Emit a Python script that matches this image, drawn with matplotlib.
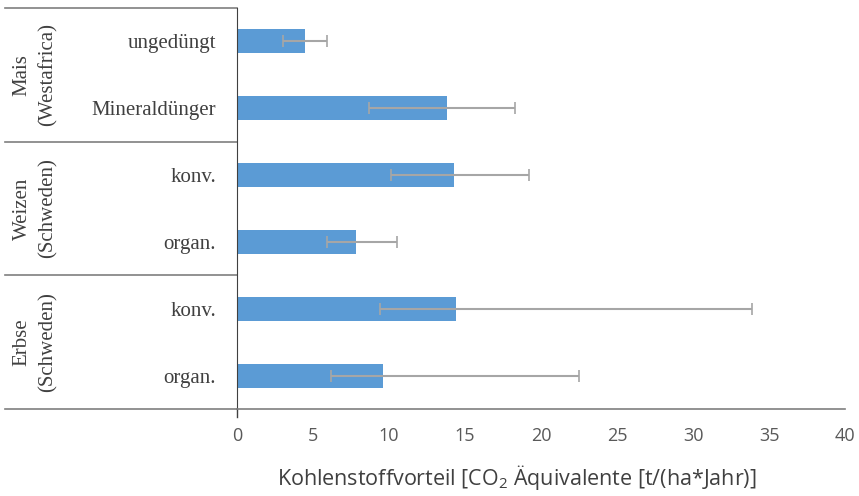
import matplotlib
matplotlib.use("Agg")
import matplotlib.pyplot as plt
import matplotlib.transforms as mtransforms
import numpy as np

# Kategorien (von oben nach unten) und Gruppen
labels = ["ungedüngt", "Mineraldünger", "konv.", "organ.", "konv.", "organ."]
groups = ["Mais\n(Westafrica)", "Weizen\n(Schweden)", "Erbse\n(Schweden)"]
values = [4.5, 13.8, 14.3, 7.8, 14.4, 9.6]
err_low = [3.0, 8.7, 10.1, 5.9, 9.4, 6.2]
err_high = [5.9, 18.3, 19.2, 10.5, 33.9, 22.5]

bar_color = "#5B9BD5"
err_color = "#A6A6A6"
line_color = "#7F7F7F"

fig = plt.figure(figsize=(8.59, 4.96), dpi=100)
ax = fig.add_axes([237 / 859, 1 - 409 / 496, (845 - 237) / 859, (409 - 8) / 496])

y = np.arange(len(labels))
vals = np.array(values)
xerr = np.array([vals - np.array(err_low), np.array(err_high) - vals])

ax.barh(y, vals, height=0.36, color=bar_color, zorder=2)
ax.errorbar(vals, y, xerr=xerr, fmt="none", ecolor=err_color, elinewidth=1.5,
            capsize=4, capthick=1.2, zorder=3)

ax.set_ylim(len(labels) - 0.5, -0.5)
ax.set_xlim(0, 40)
ax.set_xticks(np.arange(0, 41, 5))
ax.tick_params(axis="x", length=0, pad=13, labelsize=13, labelcolor="#595959")
ax.tick_params(axis="y", length=0, pad=15)
ax.set_yticks(y)
ax.set_yticklabels(labels, fontsize=15, family="Liberation Serif", color="#404040")
for lab in ax.get_xticklabels():
    lab.set_family("Open Sans")

for s in ["top", "right"]:
    ax.spines[s].set_visible(False)
ax.spines["left"].set_color("#404040")
ax.spines["bottom"].set_color(line_color)
ax.spines["bottom"].set_linewidth(1.2)

# Gruppenrahmen links neben der Achse
trans = mtransforms.blended_transform_factory(ax.transAxes, ax.transData)
x0 = (5 - 237) / (845 - 237)
for yy in [-0.5, 1.5, 3.5, 5.5]:
    ax.plot([x0, 0], [yy, yy], transform=trans, color=line_color, lw=1.2, clip_on=False)
ax.plot([0, 0], [5.5, 5.62], transform=trans, color="#404040", lw=1, clip_on=False)

for i, g in enumerate(groups):
    ax.text((35 - 237) / (845 - 237), 2 * i + 0.5, g, transform=trans, rotation=90,
            ha="center", va="center", fontsize=15, family="Liberation Serif",
            color="#404040", linespacing=1.45)

fig.text(517 / 859, 1 - 478 / 496,
         r"Kohlenstoffvorteil [CO$_\mathregular{2}$ Äquivalente [t/(ha*Jahr)]",
         ha="center", va="center", fontsize=15.5, family="Open Sans", color="#404040")

fig.savefig("out.png", dpi=100)
